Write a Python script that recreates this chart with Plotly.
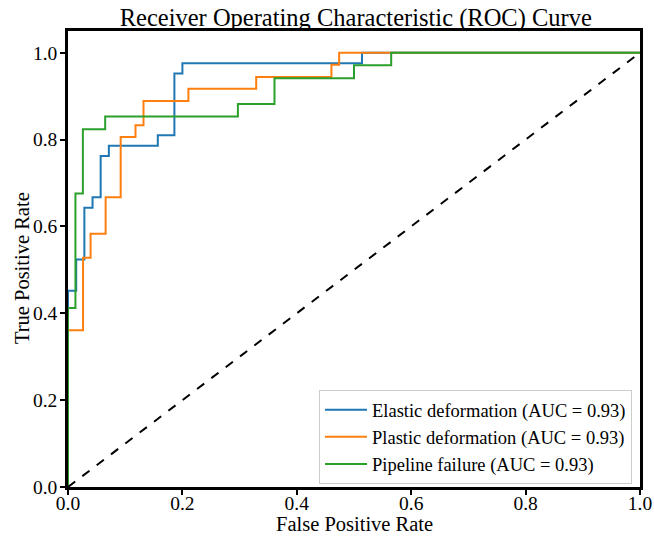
import plotly.graph_objects as go

series_names = ["Elastic deformation", "Plastic deformation", "Pipeline failure"]
auc_values = [0.93, 0.93, 0.93]

elastic_fpr = [0, 0, 0.0143, 0.0143, 0.0286, 0.0286, 0.0429, 0.0429, 0.0571, 0.0571, 0.0714, 0.0714,
               0.157, 0.157, 0.186, 0.186, 0.2, 0.2, 0.514, 0.514, 1]
elastic_tpr = [0, 0.452, 0.452, 0.524, 0.524, 0.643, 0.643, 0.667, 0.667, 0.762, 0.762, 0.786,
               0.786, 0.810, 0.810, 0.952, 0.952, 0.976, 0.976, 1, 1]

plastic_fpr = [0, 0, 0.0263, 0.0263, 0.0395, 0.0395, 0.0658, 0.0658, 0.0921, 0.0921, 0.118, 0.118,
               0.132, 0.132, 0.2105, 0.2105, 0.329, 0.329, 0.4605, 0.4605, 0.474, 0.474, 1]
plastic_tpr = [0, 0.361, 0.361, 0.528, 0.528, 0.583, 0.583, 0.667, 0.667, 0.806, 0.806, 0.833,
               0.833, 0.889, 0.889, 0.917, 0.917, 0.944, 0.944, 0.972, 0.972, 1, 1]

failure_fpr = [0, 0, 0.013, 0.013, 0.026, 0.026, 0.065, 0.065, 0.297, 0.297, 0.361, 0.361,
               0.500, 0.500, 0.565, 0.565, 1]
failure_tpr = [0, 0.412, 0.412, 0.676, 0.676, 0.824, 0.824, 0.853, 0.853, 0.882, 0.882, 0.941,
               0.941, 0.971, 0.971, 1, 1]

diag = [0, 1]
colors = ["#1f77b4", "#ff7f0e", "#2ca02c"]
tick_vals = [0.0, 0.2, 0.4, 0.6, 0.8, 1.0]
x_title = "False Positive Rate"
y_title = "True Positive Rate"

FONT = "Liberation Serif"

fig = go.Figure()
for name, auc, fx, ty, c in zip(series_names, auc_values,
                                [elastic_fpr, plastic_fpr, failure_fpr],
                                [elastic_tpr, plastic_tpr, failure_tpr], colors):
    fig.add_trace(go.Scatter(x=fx, y=ty, mode="lines", name=f"{name} (AUC = {auc:.2f})",
                             line=dict(color=c, width=2)))
fig.add_trace(go.Scatter(x=diag, y=diag, mode="lines", showlegend=False,
                         line=dict(color="black", width=2, dash="dash")))

axis_common = dict(showgrid=False, zeroline=False, showline=True, linecolor="black", linewidth=2.5,
                   mirror=True, ticks="outside", ticklen=5, tickwidth=2, tickcolor="black",
                   tickvals=tick_vals, tickformat=".1f", automargin=False,
                   tickfont=dict(family=FONT, size=19.5, color="black"))

fig.update_layout(
    width=654, height=537,
    font=dict(family=FONT, color="black"),
    margin=dict(l=68, r=14, t=31, b=50),
    paper_bgcolor="white", plot_bgcolor="white",
    title=dict(text="Receiver Operating Characteristic (ROC) Curve", x=0.544, xanchor="center",
               xref="container",
               y=0.968, yanchor="middle", font=dict(family=FONT, size=24.5, color="black")),
    xaxis=dict(range=[0, 1], ticklabelstandoff=-8, **axis_common),
    yaxis=dict(range=[0, 1.05], ticklabelstandoff=-1, **axis_common),
    legend=dict(x=0.986, y=0.006, xanchor="right", yanchor="bottom", bgcolor="white",
                bordercolor="#cccccc", borderwidth=1, itemwidth=42,
                font=dict(family=FONT, size=18.5, color="black")),
    showlegend=True,
)

fig.add_annotation(text=x_title, xref="paper", yref="paper", x=0.5, y=-(524 - 487) / 456,
                   xanchor="center", yanchor="middle", showarrow=False,
                   font=dict(family=FONT, size=20.5, color="black"))
fig.add_annotation(text=y_title, xref="paper", yref="paper", x=-(68 - 22) / 572, y=0.48,
                   xanchor="center", yanchor="middle", showarrow=False, textangle=-90,
                   font=dict(family=FONT, size=20.5, color="black"))

fig.write_html("out.html")
